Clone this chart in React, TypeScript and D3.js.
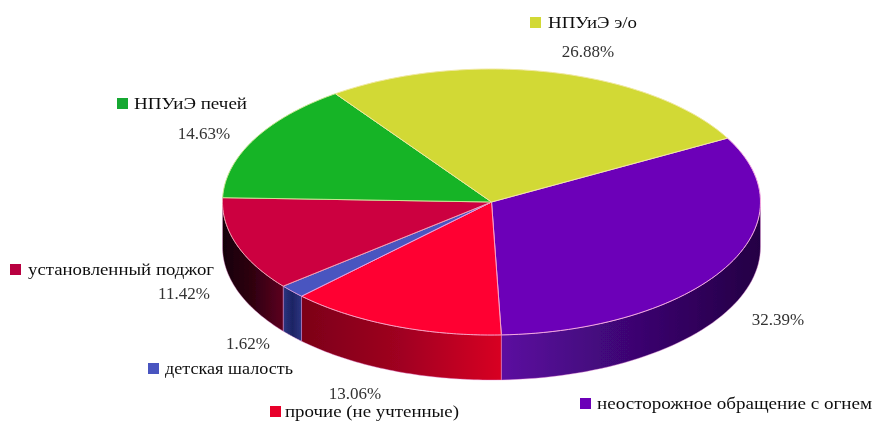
import React, { useRef, useEffect } from "react";
import * as d3 from "d3";

const labels = ["неосторожное обращение с огнем", "прочие (не учтенные)", "детская шалость", "установленный поджог", "НПУиЭ печей", "НПУиЭ э/о"];
const values = [32.39, 13.06, 1.62, 11.42, 14.63, 26.88];
const topColors = ["#6c06b8", "#ff0033", "#4a55c0", "#cc0040", "#14b428", "#d2d936"];
const sideStops = [
  ["#5c0aa0", "#3c0672", "#240044"],
  ["#7c0018", "#a00020", "#d80024"],
  ["#2c3480", "#1c2464", "#2c3480"],
  ["#160006", "#300010", "#5c0020"],
  ["#0a5a14", "#0a5a14", "#0a5a14"],
  ["#6a6d1b", "#6a6d1b", "#6a6d1b"],
];
const legendSwatch = ["#6c06b8", "#e8002c", "#4a55c0", "#b80040", "#14a830", "#d2d936"];
const legendPos = [[580, 404, 597, 275], [270, 412, 285, 174], [148, 369, 165, 128], [10, 270, 28, 186], [117, 104, 134, 113], [530, 23, 548, 89]];
const pctPos = [[778, 320], [355, 394], [248, 344], [184, 294], [204, 134], [588, 52]];
const edgeColors = ["#f4a8e0", "#f8a0c0", "#e8a0e0", "#f0a0b0", "#c8e890", "#f0e8a0"];

const cx = 491.5, cy = 202, rx = 269, ry = 133, depth = 45;
const startDeg = 61.3;

export default function App() {
  const ref = useRef<SVGSVGElement>(null);
  useEffect(() => {
    const svg = d3.select(ref.current);
    svg.selectAll("*").remove();
    const defs = svg.append("defs");
    const f = defs.append("filter").attr("id", "soft");
    f.append("feGaussianBlur").attr("stdDeviation", 0.4);
    const fp = defs.append("filter").attr("id", "softp");
    fp.append("feGaussianBlur").attr("stdDeviation", 0.4);

    const sx = d3.scaleLinear().domain([-1, 1]).range([cx - rx, cx + rx]);
    const sy = d3.scaleLinear().domain([-1, 1]).range([cy - ry, cy + ry]);
    const pie = d3.pie<number>().sort(null).startAngle((startDeg * Math.PI) / 180).endAngle((startDeg * Math.PI) / 180 + 2 * Math.PI);
    const arcs = pie(values);
    const pt = (a: number, dz = 0): [number, number] => [sx(Math.sin(a)), sy(-Math.cos(a)) + dz];
    const g = svg.append("g").attr("filter", "url(#softp)");

    arcs.forEach((d, i) => {
      const a0 = Math.max(d.startAngle, Math.PI / 2);
      const a1 = Math.min(d.endAngle, (3 * Math.PI) / 2);
      if (a1 <= a0) return;
      const n = 48;
      const ang = d3.range(n + 1).map((k) => a0 + ((a1 - a0) * k) / n);
      const top = ang.map((a) => pt(a));
      const bot = ang.map((a) => pt(a, depth)).reverse();
      const xs = top.map((p) => p[0]);
      const gid = `side${i}`;
      const gr = defs.append("linearGradient").attr("id", gid).attr("gradientUnits", "userSpaceOnUse")
        .attr("x1", d3.min(xs)!).attr("x2", d3.max(xs)!).attr("y1", 0).attr("y2", 0);
      sideStops[i].forEach((c, k) => gr.append("stop").attr("offset", k / 2).attr("stop-color", c));
      g.append("path").attr("d", d3.line()([...top, ...bot])! + "Z").attr("fill", `url(#${gid})`)
        .attr("stroke", "#e890d8").attr("stroke-width", 0.7).attr("stroke-opacity", 0.6);
    });

    arcs.forEach((d, i) => {
      const n = 64;
      const ang = d3.range(n + 1).map((k) => d.startAngle + ((d.endAngle - d.startAngle) * k) / n);
      const pts: [number, number][] = [[cx, cy], ...ang.map((a) => pt(a))];
      g.append("path").attr("d", d3.line()(pts)! + "Z").attr("fill", topColors[i])
        .attr("stroke", edgeColors[i]).attr("stroke-width", 1).attr("stroke-linejoin", "round");
    });

    const t = svg.append("g").attr("filter", "url(#soft)");
    labels.forEach((l, i) => {
      const [sxx, yy, tx, w] = legendPos[i];
      t.append("rect").attr("x", sxx).attr("y", yy - 6).attr("width", 11).attr("height", 11).attr("fill", legendSwatch[i]);
      t.append("text").attr("x", tx).attr("y", yy + 5).attr("textLength", w).attr("lengthAdjust", "spacingAndGlyphs")
        .attr("font-family", "'Liberation Serif'").attr("font-size", 16).attr("fill", "#111").text(l);
      const [px, py] = pctPos[i];
      t.append("text").attr("x", px).attr("y", py + 5).attr("text-anchor", "middle")
        .attr("font-family", "'Liberation Serif'").attr("font-size", 17).attr("fill", "#333").text(values[i].toFixed(2) + "%");
    });
  }, []);
  return (
    <svg ref={ref} width={873} height={421} style={{ position: "absolute", left: 0, top: 0, background: "#fff" }} />
  );
}
